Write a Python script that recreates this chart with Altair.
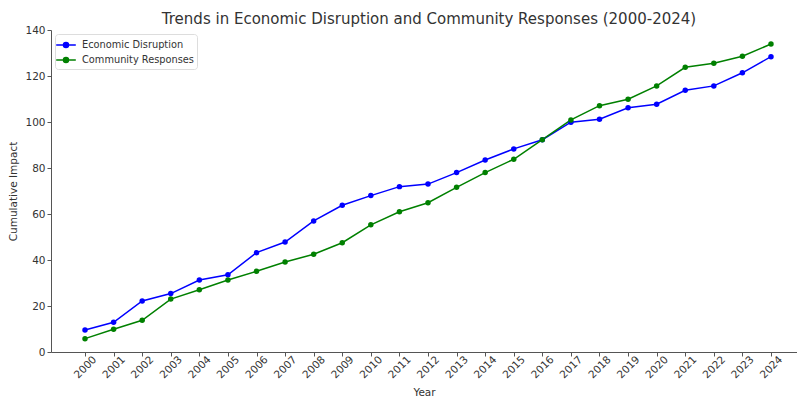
import altair as alt
import pandas as pd

years = list(range(2000, 2025))
economic = [9.6, 12.9, 22.2, 25.4, 31.3, 33.6, 43.2, 47.8, 57.0, 63.8, 68.0, 71.9, 73.0,
            78.0, 83.5, 88.3, 92.3, 99.9, 101.2, 106.2, 107.7, 113.8, 115.7, 121.4, 128.4]
community = [5.8, 9.9, 13.8, 23.0, 27.1, 31.3, 35.1, 39.1, 42.5, 47.5, 55.3, 61.0, 64.9,
             71.6, 78.0, 83.8, 92.3, 100.9, 107.1, 109.9, 115.7, 123.8, 125.5, 128.6, 133.9]
series_names = ["Economic Disruption", "Community Responses"]
series_colors = ["#0000ff", "#008000"]

rows = []
for i, y in enumerate(years):
    rows.append({"Year": y, "Series": series_names[0], "Value": economic[i]})
    rows.append({"Year": y, "Series": series_names[1], "Value": community[i]})
df = pd.DataFrame(rows)

legend = alt.Legend(
    title=None,
    orient="none",
    legendX=4,
    legendY=4,
    symbolType="M-1.4,0L1.4,0M-0.36,0A0.36,0.36 0 1,1 0.36,0A0.36,0.36 0 1,1 -0.36,0Z",
    symbolSize=196,
    symbolStrokeWidth=1.5,
    labelFont="DejaVu Sans",
    labelFontSize=9.8,
    labelColor="#333333",
    labelOffset=8,
    padding=3,
    rowPadding=1,
    strokeColor="#dddddd",
    cornerRadius=3,
    fillColor="white",
)
color = alt.Color(
    "Series:N",
    scale=alt.Scale(domain=series_names, range=series_colors),
    sort=series_names,
    legend=legend,
)

x = alt.X(
    "Year:Q",
    scale=alt.Scale(domain=[1998.81, 2024.91], nice=False, zero=False),
    axis=alt.Axis(
        values=years,
        format="d",
        labelAngle=-45,
        labelAlign="center",
        labelBaseline="middle",
        labelPadding=11,
        labelFont="DejaVu Sans",
        labelFontSize=10.5,
        labelColor="#333333",
        title="Year",
        titleFont="DejaVu Sans",
        titleFontSize=10.5,
        titleFontWeight="normal",
        titleColor="#333333",
        titlePadding=7,
        domainColor="#555555",
        tickColor="#555555",
        tickSize=4,
        grid=False,
    ),
)
y = alt.Y(
    "Value:Q",
    scale=alt.Scale(domain=[0, 140], nice=False),
    axis=alt.Axis(
        values=[0, 20, 40, 60, 80, 100, 120, 140],
        labelFont="DejaVu Sans",
        labelFontSize=10.5,
        labelColor="#333333",
        title="Cumulative Impact",
        titleFont="DejaVu Sans",
        titleFontSize=10.5,
        titleFontWeight="normal",
        titleColor="#333333",
        titlePadding=6,
        domainColor="#555555",
        tickColor="#555555",
        tickSize=4,
        grid=False,
    ),
)

base = alt.Chart(df)
lines = base.mark_line(strokeWidth=1.5).encode(x=x, y=y, color=color, detail="Series:N")
points = base.mark_point(filled=True, size=30, opacity=1).encode(x=x, y=y, color=color)

chart = alt.layer(lines, points).properties(
    width=746,
    height=322,
    title=alt.TitleParams(
        "Trends in Economic Disruption and Community Responses (2000-2024)",
        font="DejaVu Sans",
        fontSize=15,
        fontWeight="normal",
        color="#333333",
        anchor="middle",
        offset=-2,
        dx=5,
    ),
    autosize=alt.AutoSizeParams(type="none"),
    padding={"left": 51, "top": 30, "right": 0, "bottom": 47},
).configure_view(stroke=None)

chart.save("out.html", embed_options={"renderer": "svg", "actions": False})
